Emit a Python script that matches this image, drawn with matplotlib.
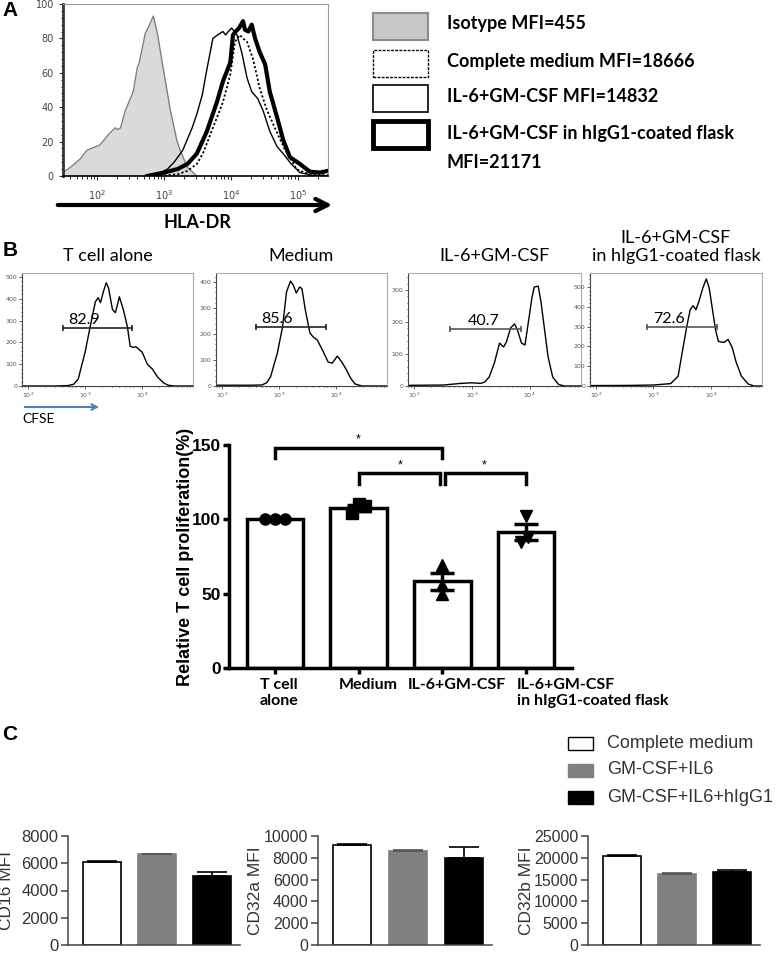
import numpy as np
import matplotlib.pyplot as plt
from matplotlib.patches import Rectangle, FancyArrowPatch
from matplotlib.ticker import LogLocator, MultipleLocator, NullFormatter

W, H = 778, 956
CAL = ['Lato', 'DejaVu Sans']
ARI = ['Liberation Sans', 'DejaVu Sans']

# ---------------- data ----------------
# panel A: HLA-DR histograms (x in log10 units, y in % of max)
iso_logx = [1.49, 1.6, 1.75, 1.85, 2.04, 2.19, 2.27, 2.31, 2.35, 2.42, 2.54, 2.6, 2.63,
            2.72, 2.76, 2.84, 2.9, 2.99, 3.09, 3.19, 3.24, 3.35, 3.49]
iso_y = [2, 5, 10, 15, 18, 25, 28, 27, 28, 38, 49, 63, 66, 83, 86, 93, 83, 62, 39, 21, 15, 5, 0]

med_logx = [2.94, 3.2, 3.35, 3.49, 3.58, 3.73, 3.88, 3.99, 4.06, 4.13, 4.18, 4.24, 4.33,
            4.43, 4.54, 4.69, 4.81, 4.88, 4.98, 5.1, 5.3, 5.45]
med_y = [0, 1, 3, 7, 13, 28, 43, 59, 78, 82, 80, 78, 68, 51, 38, 25, 15, 11, 4, 2, 0.5, 0.5]

il6_logx = [2.7, 2.9, 3.05, 3.15, 3.28, 3.42, 3.49, 3.57, 3.64, 3.73, 3.8, 3.84, 3.88, 3.92,
            3.96, 4.01, 4.09, 4.16, 4.24, 4.31, 4.4, 4.48, 4.58, 4.69, 4.78, 4.9, 5.03, 5.2, 5.45]
il6_y = [0, 1, 4, 8, 15, 28, 36, 47, 62, 80, 82, 83, 84, 82, 84, 86, 82, 72, 57, 49, 45, 38,
         26, 17, 13, 7, 2, 0.5, 0]

igg_logx = [2.75, 3.0, 3.2, 3.35, 3.49, 3.64, 3.79, 3.88, 3.99, 4.03, 4.07, 4.12, 4.18, 4.21,
            4.26, 4.31, 4.36, 4.43, 4.51, 4.58, 4.69, 4.78, 4.88, 5.03, 5.18, 5.33, 5.45]
igg_y = [0, 2, 4, 7, 13, 26, 43, 55, 66, 82, 84, 86, 90, 85, 84, 88, 80, 72, 65, 49, 34, 21,
         11, 7, 2.5, 2, 3]

legA_labels = ['Isotype MFI=455', 'Complete medium MFI=18666', 'IL-6+GM-CSF MFI=14832',
               'IL-6+GM-CSF in hIgG1-coated flask\nMFI=21171']

# panel B: CFSE histograms
cfse_titles = ['T cell alone', 'Medium', 'IL-6+GM-CSF', 'IL-6+GM-CSF\nin hIgG1-coated flask']
h1_logx = [1.9, 2.5, 2.7, 2.8, 2.88, 3.0, 3.09, 3.18, 3.23, 3.27, 3.32, 3.37, 3.41, 3.48, 3.53,
           3.56, 3.6, 3.67, 3.74, 3.79, 3.85, 3.89, 4.0, 4.09, 4.18, 4.27, 4.37, 4.45, 4.55, 4.9]
h1_y = [0, 0, 2, 8, 32, 155, 273, 386, 405, 382, 432, 473, 450, 350, 336, 365, 409, 350, 273,
        182, 177, 180, 155, 100, 77, 41, 15, 4, 0, 0]
h2_logx = [1.9, 2.5, 2.7, 2.78, 2.85, 2.97, 3.06, 3.13, 3.2, 3.25, 3.3, 3.36, 3.4, 3.46, 3.54,
           3.6, 3.67, 3.76, 3.86, 3.93, 4.02, 4.1, 4.2, 4.25, 4.33, 4.45, 4.9]
h2_y = [3, 3, 4, 12, 35, 127, 227, 362, 404, 388, 358, 381, 375, 292, 204, 188, 177, 138, 92,
        88, 115, 92, 54, 31, 8, 0, 0]
h3_logx = [1.9, 2.5, 2.8, 3.0, 3.15, 3.22, 3.3, 3.39, 3.48, 3.55, 3.6, 3.67, 3.74, 3.79, 3.86,
           3.92, 3.99, 4.04, 4.08, 4.15, 4.2, 4.26, 4.32, 4.4, 4.5, 4.6, 4.9]
h3_y = [2, 3, 8, 10, 8, 12, 28, 72, 134, 122, 138, 181, 194, 175, 134, 128, 213, 275, 309, 312,
        259, 175, 91, 28, 5, 0, 0]
h4_logx = [1.9, 2.6, 3.0, 3.3, 3.43, 3.51, 3.58, 3.64, 3.69, 3.74, 3.79, 3.86, 3.92, 3.97, 4.02,
           4.08, 4.13, 4.18, 4.23, 4.3, 4.37, 4.44, 4.53, 4.65, 4.75, 4.9]
h4_y = [2, 3, 5, 12, 50, 185, 300, 385, 405, 385, 425, 495, 540, 495, 400, 285, 225, 222, 220,
        235, 195, 120, 50, 10, 0, 0]
cfse_ymax = [518, 435, 353, 570]
cfse_ytop = [500, 400, 300, 500]
gate_lo = [2.62, 2.6, 2.62, 2.88]
gate_hi = [3.83, 3.83, 3.85, 4.11]
gate_y = [268, 227, 178, 300]
gate_pct = ['82.9', '85.6', '40.7', '72.6']

# panel B: proliferation bar chart
prol_labels = ['T cell\nalone', 'Medium', 'IL-6+GM-CSF', 'IL-6+GM-CSF\nin hIgG1-coated flask']
prol_points = [[100, 100, 100], [104, 109, 110], [69, 56, 50], [102, 88, 85]]
prol_markers = ['o', 's', '^', 'v']
sig_pairs = [(0, 2), (1, 2), (2, 3)]
sig_heights = [148, 131, 131]

# panel C: Fc receptor MFI
c_groups = ['Complete medium', 'GM-CSF+IL6', 'GM-CSF+IL6+hIgG1']
cd16_mean = [6100, 6650, 5050]
cd16_err = [50, 20, 280]
cd32a_mean = [9200, 8650, 8000]
cd32a_err = [60, 40, 980]
cd32b_mean = [20300, 16250, 16650]
cd32b_err = [250, 150, 450]


def rect(x0, y0, x1, y1):
    # pixel box (top-left origin) -> figure fraction
    return [x0 / W, 1 - y1 / H, (x1 - x0) / W, (y1 - y0) / H]


def fx(x):
    return x / W


def fy(y):
    return 1 - y / H


fig = plt.figure(figsize=(W / 100, H / 100), dpi=100)

# panel letters
for let, y in zip('ABC', [11, 250, 735]):
    fig.text(fx(10), fy(y), let, family=ARI, weight='bold', fontsize=15, ha='center', va='center')

# ---------------- A ----------------
axA = fig.add_axes(rect(63, 4, 328, 176))
xi = 10 ** np.array(iso_logx)
axA.fill_between(xi, iso_y, color='#dadada', lw=0)
axA.plot(xi, iso_y, color='#808080', lw=1)
axA.plot(10 ** np.array(med_logx), med_y, color='k', lw=1.3, ls=(0, (1.2, 1.2)))
axA.plot(10 ** np.array(il6_logx), il6_y, color='k', lw=1)
axA.plot(10 ** np.array(igg_logx), igg_y, color='k', lw=3)
axA.set_xscale('log')
axA.set_xlim(10 ** 1.49, 10 ** 5.45)
axA.set_ylim(0, 100)
axA.set_xticks([1e2, 1e3, 1e4, 1e5])
axA.xaxis.set_minor_locator(LogLocator(subs=np.arange(2, 10)))
axA.xaxis.set_minor_formatter(NullFormatter())
axA.set_yticks(range(0, 101, 20))
axA.yaxis.set_minor_locator(MultipleLocator(4))
axA.tick_params(labelsize=7, labelcolor='#444444', length=3, width=0.8, color='#333333')
axA.tick_params(axis='x', pad=6)
axA.tick_params(which='minor', length=1.8, width=0.6)
for s in ['top', 'right']:
    axA.spines[s].set_color('#999999')
    axA.spines[s].set_linewidth(0.8)
axA.spines['left'].set_linewidth(2)
axA.spines['left'].set_color('#333333')
axA.spines['bottom'].set_linewidth(1.2)

fig.patches.append(FancyArrowPatch((fx(55), fy(205)), (fx(335), fy(205)), transform=fig.transFigure,
                                   arrowstyle='->', mutation_scale=22, lw=3, color='k'))
fig.text(fx(197), fy(222), 'HLA-DR', family=CAL, weight='bold', fontsize=13, ha='center', va='center')

# legend A
box_styles = [dict(facecolor='#c8c8c8', edgecolor='#8c8c8c', lw=1.5),
              dict(facecolor='white', edgecolor='k', lw=1, ls=(0, (2, 1))),
              dict(facecolor='white', edgecolor='k', lw=1.2),
              dict(facecolor='white', edgecolor='k', lw=3.5)]
box_top = [13, 50, 85, 121]
text_y = [23, 61, 97, 133]
for st, bt, ty, lab in zip(box_styles, box_top, text_y, legA_labels):
    fig.patches.append(Rectangle((fx(373), fy(bt + 27)), 55 / W, 27 / H, transform=fig.transFigure, **st))
    for k, line in enumerate(lab.split('\n')):
        fig.text(fx(447), fy(ty + 30 * k), line, family=CAL, weight='bold', fontsize=13,
                 va='center', ha='left')

# ---------------- B histograms ----------------
hist_x = [(22, 193), (216, 387), (408, 581), (590, 762)]
hists = [(h1_logx, h1_y), (h2_logx, h2_y), (h3_logx, h3_y), (h4_logx, h4_y)]
gate_cols = ['#222222', '#222222', '#555555', '#555555']
text_dx = [15, 15, 24, 16]
for i, ((x0, x1), (hx, hy)) in enumerate(zip(hist_x, hists)):
    ax = fig.add_axes(rect(x0, 273, x1, 386))
    ax.plot(10 ** np.array(hx), hy, color='k', lw=1)
    ax.set_xscale('log')
    ax.set_xlim(10 ** 1.895, 10 ** 4.89)
    ax.set_ylim(0, cfse_ymax[i])
    ax.set_xticks([1e2, 1e3, 1e4])
    ax.xaxis.set_minor_locator(LogLocator(subs=np.arange(2, 10)))
    ax.xaxis.set_minor_formatter(NullFormatter())
    ax.set_yticks(range(0, cfse_ytop[i] + 1, 100))
    ax.yaxis.set_minor_locator(MultipleLocator(20))
    ax.tick_params(labelsize=4.5, labelcolor='#555555', length=2, width=0.6, color='#444444', pad=1.5)
    ax.tick_params(which='minor', length=1, width=0.5)
    for s in ['top', 'right']:
        ax.spines[s].set_color('#aaaaaa')
        ax.spines[s].set_linewidth(0.8)
    ax.spines['left'].set_color('#444444')
    ax.spines['left'].set_linewidth(0.8)
    ax.spines['bottom'].set_color('#444444')
    ax.spines['bottom'].set_linewidth(0.8)
    ax.plot([10 ** gate_lo[i], 10 ** gate_hi[i]], [gate_y[i], gate_y[i]], color=gate_cols[i], lw=1.2,
            marker='|', markersize=5, markeredgewidth=1.2)
    ax.annotate(gate_pct[i], (10 ** gate_lo[i], gate_y[i]), xytext=(text_dx[i], 0.5),
                textcoords='offset points', ha='center', va='bottom', family=CAL, fontsize=11.5)
    ax.set_title(cfse_titles[i], family=CAL, fontsize=13, pad=9, linespacing=1.15)

fig.patches.append(FancyArrowPatch((fx(22), fy(407)), (fx(102), fy(407)), transform=fig.transFigure,
                                   arrowstyle='->', mutation_scale=10, lw=1.5, color='#4f81bd'))
fig.text(fx(22), fy(419), 'CFSE', family=CAL, fontsize=10, ha='left', va='center')

# ---------------- B bar chart ----------------
axP = fig.add_axes(rect(229, 445, 572, 668))
xpos = np.arange(len(prol_points))
means = [np.mean(p) for p in prol_points]
sems = [np.std(p, ddof=1) / np.sqrt(len(p)) for p in prol_points]
axP.bar(xpos, means, width=0.68, color='white', edgecolor='k', lw=2.5, zorder=2)
jitter = [[-0.12, 0, 0.12], [-0.08, 0.08, 0], [0, 0, 0], [0, 0.03, -0.06]]
for i, pts in enumerate(prol_points):
    axP.plot(xpos[i] + np.array(jitter[i]), pts, ls='none', marker=prol_markers[i], color='k',
             markersize=8, zorder=4, clip_on=False)
axP.errorbar(xpos, means, yerr=sems, fmt='none', ecolor='k', elinewidth=2.5, capsize=8.5,
             capthick=2.5, zorder=5)
ins = [(0, 0), (0, 0.03), (0.03, 0)]
for (a, b), h, (ia, ib) in zip(sig_pairs, sig_heights, ins):
    xa, xb = a + ia, b - ib
    axP.plot([xa, xa, xb, xb], [h - 7, h, h, h - 7], color='k', lw=2.5, clip_on=False,
             solid_joinstyle='miter')
    axP.text((a + b) / 2, h + 1.5, '*', ha='center', va='bottom', fontsize=9, family=ARI)
axP.set_xlim(-0.55, 3.55)
axP.set_ylim(0, 150)
axP.set_yticks([0, 50, 100, 150])
axP.set_xticks(xpos)
axP.set_xticklabels([])
for lab in axP.get_yticklabels():
    lab.set_family(ARI)
    lab.set_weight('bold')
    lab.set_fontsize(12.5)
# category labels sit a little right of their bars, the last one left-aligned
offs = [3, 7.2, 10.8, -6.5]
aligns = ['center', 'center', 'center', 'left']
for i, lab in enumerate(prol_labels):
    axP.annotate(lab, (xpos[i], 0), xytext=(offs[i], -7), textcoords='offset points',
                 ha=aligns[i], va='top', multialignment=aligns[i], family=CAL, weight='bold',
                 fontsize=11.5, linespacing=1.2, annotation_clip=False)
axP.tick_params(length=4, width=2.5, pad=2)
for s in ['top', 'right']:
    axP.spines[s].set_visible(False)
for s in ['left', 'bottom']:
    axP.spines[s].set_linewidth(2.5)
axP.text((185 - 229) / 343, 0.5, 'Relative T cell proliferation(%)', transform=axP.transAxes,
         rotation=90, ha='center', va='center', family=ARI, weight='bold', fontsize=13)

# ---------------- C ----------------
bar_cols = ['white', '#808080', 'black']
bar_edges = ['black', '#808080', 'black']
err_cols = ['black', '#555555', 'black']
c_sets = [(cd16_mean, cd16_err, 'CD16 MFI', 8000, 2000, (68, 836, 240, 945), 12),
          (cd32a_mean, cd32a_err, 'CD32a MFI', 10000, 2000, (318, 836, 492, 945), 11.5),
          (cd32b_mean, cd32b_err, 'CD32b MFI', 25000, 5000, (588, 836, 760, 945), 11.5)]
for mean, err, ylab, top, step, (x0, y0, x1, y1), tfs in c_sets:
    ax = fig.add_axes(rect(x0, y0, x1, y1))
    xc = np.arange(3)
    ax.bar(xc, mean, width=0.69, color=bar_cols, edgecolor=bar_edges, lw=1.2, zorder=2)
    for j in range(3):
        ax.errorbar(xc[j], mean[j], yerr=[[0], [err[j]]], fmt='none', ecolor=err_cols[j],
                    elinewidth=1.2, capsize=11, capthick=1.2, zorder=3)
    ax.set_xlim(-0.61, 2.5)
    ax.set_ylim(0, top)
    ax.set_yticks(range(0, top + 1, step))
    ax.set_xticks([])
    ax.tick_params(axis='y', length=5, width=1.1, color='#444444', labelsize=tfs,
                   labelcolor='#333333', pad=2)
    for lab in ax.get_yticklabels():
        lab.set_family(ARI)
    for s in ['top', 'right']:
        ax.spines[s].set_visible(False)
    for s in ['left', 'bottom']:
        ax.spines[s].set_color('#444444')
        ax.spines[s].set_linewidth(1.1)
    ax.text(-0.36, 0.5, ylab, transform=ax.transAxes, rotation=90, ha='center', va='center',
            family=ARI, fontsize=12.5, color='#333333')

# legend C
for k, (g, yc) in enumerate(zip(c_groups, [743, 770, 797])):
    fig.patches.append(Rectangle((fx(568), fy(yc + 6.5)), 25 / W, 13 / H, transform=fig.transFigure,
                                 facecolor=bar_cols[k], edgecolor=bar_edges[k], lw=1))
    fig.text(fx(607), fy(yc), g, family=ARI, fontsize=13, color='#333333', va='center', ha='left')

fig.savefig('out.png', dpi=100)
